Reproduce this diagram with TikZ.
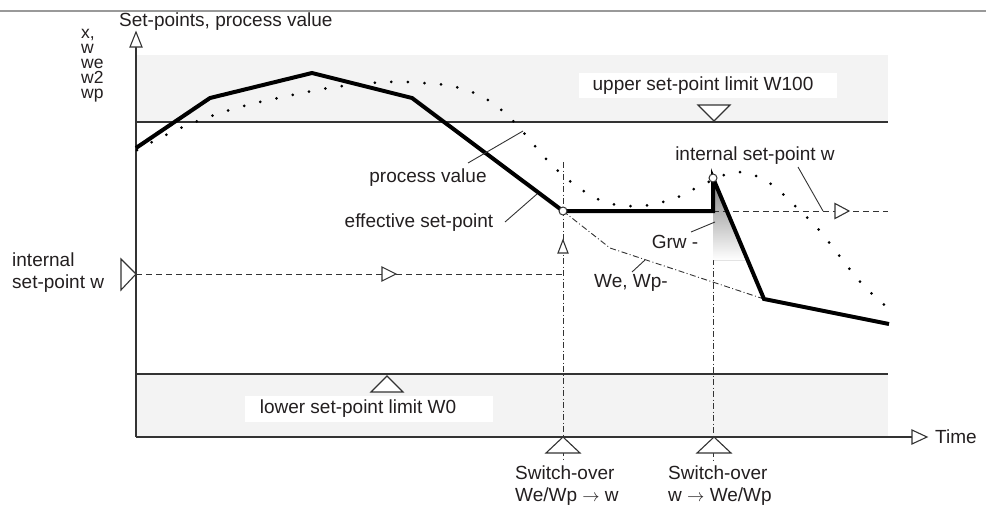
\documentclass[tikz,border=0pt]{standalone}
\usepackage{fontspec}
\setmainfont{Liberation Sans}
\definecolor{txt}{HTML}{231F20}
\definecolor{ln}{HTML}{333333}
\definecolor{band}{HTML}{F3F3F3}
\definecolor{shade}{HTML}{A7A9AC}
\begin{document}
\begin{tikzpicture}[x=1pt,y=-1pt,
  lbl/.style={font=\fontsize{19}{22}\selectfont, text=txt, inner sep=0pt},
  small/.style={font=\fontsize{17.5}{15}\selectfont, text=txt, inner sep=0pt, anchor=base west, text height=9pt, text depth=2pt},
  thinln/.style={line width=1.2pt, draw=ln},
  leader/.style={line width=0.9pt, draw=ln},
  tri/.style={draw=ln, line width=1.1pt, fill=white, line join=miter},
  dashln/.style={line width=0.9pt, draw=ln, dash pattern=on 6pt off 4pt},
  dashdot/.style={line width=0.9pt, draw=ln, dash pattern=on 6pt off 2.5pt on 1pt off 2.5pt},
  thickln/.style={line width=4pt, draw=black, line join=miter},
  dots/.style={line width=3pt, draw=black, line cap=round, dash pattern=on 0pt off 16.6pt},
  ring/.style={circle, draw=ln, line width=1pt, fill=white, minimum size=8pt, inner sep=0pt}
]
\useasboundingbox (0,0) rectangle (986,506);

% header rule
\draw[line width=1.5pt, draw=gray!80] (0,11) -- (986,11);

% bands
\fill[band] (136,55) rectangle (888,122);
\fill[band] (136,374) rectangle (888,437);
\draw[thinln] (136,122) -- (888,122);
\draw[thinln] (136,374) -- (888,374);

% upper limit label and marker
\fill[white] (579,73) rectangle (837,98);
\node[lbl] (upper) at (703,86) {upper set-point limit W100};
\draw[tri] (698,105) -- (730,105) -- (714,121) -- cycle;

% lower limit label and marker
\fill[white] (245,396) rectangle (493,422);
\node[lbl] (lower) at (358,409) {lower set-point limit W0};
\draw[tri] (371,392) -- (403,392) -- (387,376) -- cycle;

% axes
\coordinate (ytop) at (136,47);
\coordinate (orig) at (136,437);
\coordinate (xend) at (912,437);
\draw[thinln] (orig) -- (ytop);
\draw[thinln] (orig) -- (xend);
\draw[tri] (130,47) -- (142,47) -- (136,32) -- cycle;
\draw[tri] (912,430) -- (912,444) -- (927,437) -- cycle;
\node[lbl, anchor=west] (time) at (935,437) {Time};

\node[lbl, anchor=base west] (ytitle) at (119,26) {Set-points, process value};
\node[small] (yl1) at (81,38) {x,};
\node[small] (yl2) at (81,53) {w};
\node[small] (yl3) at (81,68) {we};
\node[small] (yl4) at (81,83) {w2};
\node[small] (yl5) at (81,98) {wp};

% internal set-point on the left
\node[lbl, anchor=west, align=left, font=\fontsize{19}{22}\selectfont] (intw) at (12,273) {internal\\set-point w};
\coordinate (wl) at (136,274);
\coordinate (wr) at (563,274);
\draw[dashln] (wl) -- (wr);
\draw[tri] (121,259) -- (121,290) -- (136,274) -- cycle;
\draw[tri] (382,267) -- (382,281) -- (396,274) -- cycle;

% switch-over verticals
\coordinate (s1t) at (563,162);
\coordinate (s1b) at (563,460);
\coordinate (s2t) at (713,211);
\coordinate (s2b) at (713,460);
\draw[dashdot] (s1t) -- (s1b);
\draw[dashdot] (s2t) -- (s2b);
\draw[tri] (558,253) -- (568,253) -- (563,240) -- cycle;
\draw[tri] (546,453) -- (580,453) -- (563,437) -- cycle;
\draw[tri] (697,453) -- (731,453) -- (714,437) -- cycle;
\node[lbl, anchor=north west, align=left] (sw1) at (515,466) {Switch-over\\We/Wp $\rightarrow$ w};
\node[lbl, anchor=north west, align=left] (sw2) at (668,466) {Switch-over\\w $\rightarrow$ We/Wp};

% ramp shade
\fill[shade] (713,178) -- (713,260) -- (748,260) -- cycle;

% We, Wp ramp (dash-dot)
\coordinate (r1) at (563,211);
\coordinate (r2) at (610,248);
\coordinate (r3) at (764,299);
\draw[dashdot] (r1) -- (r2) -- (r3);

% right internal set-point dashed
\coordinate (iwl) at (713,211);
\coordinate (iwr) at (888,211);
\draw[dashln] (iwl) -- (iwr);
\draw[tri] (835,203.5) -- (835,218.5) -- (849,211) -- cycle;

% process value (dotted)
\draw[dots] plot[smooth, tension=0.6] coordinates {(137,150) (183,127) (233,109) (283,97) (335,87) (387,82) (422,83) (456,87) (488,100) (515,123) (549,162) (575,185) (605,202) (639,206) (673,199) (704,184) (737,172) (768,182) (795,206) (819,230) (841,258) (863,285) (888,308)};

% effective set-point
\draw[thickln] (136,148) -- (210,98) -- (312,73) -- (412,98) -- (563,211) -- (713,211) -- (713,178) -- (764,299) -- (889,324);
\node[ring] (c1) at (563,211) {};
\node[ring] (c2) at (713,178) {};

% labels with leaders
\node[lbl] (pv) at (428,178) {process value};
\coordinate (pva) at (468,163);
\coordinate (pvb) at (523,131);
\draw[leader] (pva) -- (pvb);

\node[lbl] (esp) at (419,223) {effective set-point};
\coordinate (espa) at (505,222);
\coordinate (espb) at (537,194);
\draw[leader] (espa) -- (espb);

\node[lbl] (iw2) at (755,156) {internal set-point w};
\coordinate (iwa) at (798,167);
\coordinate (iwb) at (823,211);
\draw[leader] (iwa) -- (iwb);

\node[lbl] (grw) at (675,242) {Grw -};
\coordinate (grwa) at (691,232);
\coordinate (grwb) at (715,222);
\draw[leader] (grwa) -- (grwb);

\node[lbl] (wewp) at (631,283) {We, Wp-};
\coordinate (wea) at (632,272);
\coordinate (web) at (645,260);
\draw[leader] (wea) -- (web);
\end{tikzpicture}
\end{document}
